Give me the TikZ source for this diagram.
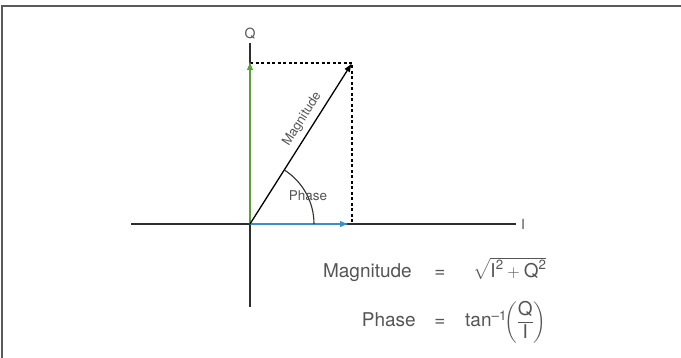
\documentclass[tikz,border=0pt]{standalone}
\usepackage{amsmath}
\usepackage{fontspec}
\setmainfont{TeX Gyre Heros}
\usetikzlibrary{arrows.meta}
\definecolor{axisgray}{HTML}{2E2E2E}
\definecolor{textgray}{HTML}{555555}
\definecolor{framegray}{HTML}{5A5A5A}
\definecolor{qgreen}{HTML}{5E9E3C}
\definecolor{iblue}{HTML}{3A8FC9}
\tikzset{
  axis/.style={draw=axisgray, line width=1.3pt},
  vec/.style={-{Latex[length=9pt,width=6.5pt]}, line width=1.3pt},
  proj/.style={draw=black, dashed, line width=1.1pt, dash pattern=on 3pt off 2.5pt},
  lbl/.style={text=textgray, font=\fontsize{13}{15}\selectfont, inner sep=1pt},
  eq/.style={text=textgray, font=\fontsize{19}{22}\selectfont, inner sep=0pt},
}
\begin{document}
\begin{tikzpicture}[x=1pt, y=-1pt]
\useasboundingbox (0,0) rectangle (681,358);
% frame
\draw[framegray, line width=2pt] (2,358) |- (681,6);
% axes
\coordinate (o) at (250,224);
\coordinate (xl) at (131,224);
\coordinate (xr) at (516,224);
\coordinate (yt) at (250,43);
\coordinate (yb) at (250,307);
\coordinate (v) at (352,63);
\coordinate (qtip) at (250,63);
\coordinate (itip) at (352,224);
\draw[axis] (xl) -- (xr);
\draw[axis] (yt) -- (yb);
\node[lbl, font=\fontsize{14}{16}\selectfont, right=4pt] (ilbl) at (xr) {I};
\node[lbl, font=\fontsize{14}{16}\selectfont, above=3pt] (qlbl) at (yt) {Q};
% projections
\draw[proj] (qtip) -- (v) -- (itip);
% vectors
\draw[vec, qgreen] (o) -- ([yshift=2pt]qtip);
\draw[vec, iblue] (o) -- ([xshift=-3pt]itip);
\draw[vec, black] (o) -- (v) node[lbl, pos=0.61, sloped, above=4pt] (maglbl) {Magnitude};
% phase angle
\draw[axisgray, line width=1.1pt] ([xshift=64pt]o) arc[start angle=0, end angle=57.6, radius=64pt];
\node[lbl, font=\fontsize{13.5}{15}\selectfont] (phlbl) at (308,196) {Phase};
% equations
\node[eq, anchor=base east] (magname) at (412,278) {Magnitude};
\node[eq, anchor=base] (eqa) at (440,278) {=};
\node[eq, anchor=base west] (magval) at (473,278) {$\sqrt{\text{I}^{\text{2}}+\text{Q}^{\text{2}}}$};
\node[eq, anchor=base east] (phname) at (416,327) {Phase};
\node[eq, anchor=base] (eqb) at (440,327) {=};
\node[eq, anchor=base west] (phval) at (465,327) {tan$^{\text{--1}}\!\biggl(\dfrac{\text{Q}}{\text{I}}\biggr)$};
\end{tikzpicture}
\end{document}
